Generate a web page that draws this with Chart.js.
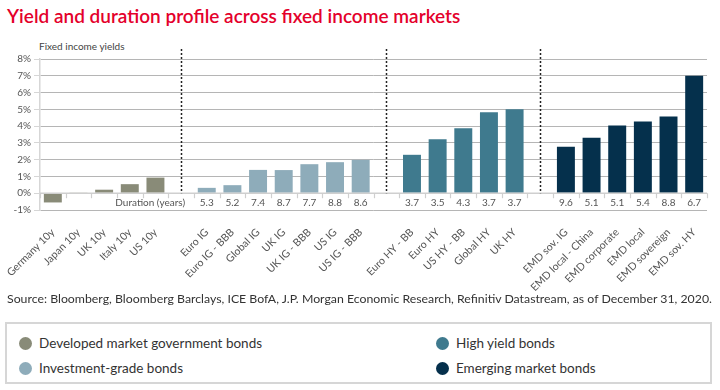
<!DOCTYPE html>
<html><head><meta charset="utf-8">
<script src="https://cdn.jsdelivr.net/npm/chart.js@4"></script>
<style>
html,body{margin:0;padding:0;background:#fff;}
body{width:720px;height:390px;position:relative;overflow:hidden;font-family:Lato,"Open Sans",sans-serif;color:#333;}
#title{position:absolute;left:7px;top:4px;font-size:19px;font-weight:600;color:#e4002b;white-space:nowrap;}
#ycap{position:absolute;left:39px;top:40px;font-size:10px;color:#444;white-space:nowrap;}
#wrap{position:absolute;left:0;top:0;width:720px;height:292px;}
#source{position:absolute;left:7px;top:291px;font-size:12.3px;color:#333;white-space:nowrap;}
#legend{position:absolute;left:5px;top:322px;width:707px;height:62px;border:2px solid #d6d6d6;box-sizing:border-box;}
.li{position:absolute;font-size:13.5px;color:#333;white-space:nowrap;line-height:16px;}
.dot{display:inline-block;width:13px;height:13px;border-radius:50%;vertical-align:-2px;margin-right:7px;}
</style></head>
<body>
<div id="title">Yield and duration profile across fixed income markets</div>
<div id="ycap">Fixed income yields</div>
<div id="wrap"><canvas id="c" width="720" height="292"></canvas></div>
<div id="source">Source: Bloomberg, Bloomberg Barclays, ICE BofA, J.P. Morgan Economic Research, Refinitiv Datastream, as of December 31, 2020.</div>
<div id="legend"></div>
<script>
// ---- data ----
const dmLabels = ['Germany 10y','Japan 10y','UK 10y','Italy 10y','US 10y'];
const dmYields = [-0.55, 0.02, 0.21, 0.54, 0.93];

const igLabels = ['Euro IG','Euro IG - BBB','Global IG','UK IG','UK IG - BBB','US IG','US IG - BBB'];
const igYields = [0.32, 0.48, 1.39, 1.38, 1.73, 1.85, 1.99];
const igDuration = ['5.3','5.2','7.4','8.7','7.7','8.8','8.6'];

const hyLabels = ['Euro HY - BB','Euro HY','US HY - BB','Global HY','UK HY'];
const hyYields = [2.29, 3.22, 3.87, 4.82, 5.0];
const hyDuration = ['3.7','3.5','4.3','3.7','3.7'];

const emLabels = ['EMD sov. IG','EMD local - China','EMD corporate','EMD local','EMD sovereign','EMD sov. HY'];
const emYields = [2.77, 3.30, 4.03, 4.27, 4.57, 7.0];
const emDuration = ['9.6','5.1','5.1','5.4','8.8','6.7'];

const yTicks = [-1,0,1,2,3,4,5,6,7,8];
const groupNames = ['Developed market government bonds','Investment-grade bonds','High yield bonds','Emerging market bonds'];
const groupColors = ['#898b78','#8eacba','#3f7a8e','#05304c'];
const durationCaption = 'Duration (years)';

// ---- build ----
const groups = [
  {labels: dmLabels, values: dmYields, dur: null},
  {labels: igLabels, values: igYields, dur: igDuration},
  {labels: hyLabels, values: hyYields, dur: hyDuration},
  {labels: emLabels, values: emYields, dur: emDuration}
];
const labels = [];
const spacerIdx = [];
const durIdx = [];
const durText = [];
const groupIdx = groups.map(()=>[]);
groups.forEach((g,gi)=>{
  if(gi>0){spacerIdx.push(labels.length); labels.push('');}
  g.labels.forEach((l,i)=>{
    groupIdx[gi].push(labels.length);
    if(g.dur){durIdx.push(labels.length); durText.push(g.dur[i]);}
    labels.push(l);
  });
});
const datasets = groups.map((g,gi)=>{
  const d = labels.map(()=>null);
  groupIdx[gi].forEach((idx,i)=>{ d[idx] = g.values[i]; });
  return {label: groupNames[gi], data: d, backgroundColor: groupColors[gi], grouped:false,
          barPercentage:0.7, categoryPercentage:1.0, borderWidth:0};
});

const overlay = {
  id:'overlay',
  afterDatasetsDraw(chart){
    const ctx = chart.ctx, x = chart.scales.x, y = chart.scales.y;
    const a = chart.chartArea;
    const y0 = y.getPixelForValue(0);
    const step = x.getPixelForValue(1) - x.getPixelForValue(0);
    ctx.save();
    ctx.strokeStyle = '#cfcfcf'; ctx.lineWidth = 1.5; ctx.setLineDash([]);
    ctx.beginPath(); ctx.moveTo(a.left, y0); ctx.lineTo(a.right, y0); ctx.stroke();
    ctx.lineWidth = 1.2;
    for(let i=0;i<=labels.length;i++){
      const px = Math.round(x.getPixelForValue(i) - step/2)+0.5;
      ctx.beginPath(); ctx.moveTo(px, y0); ctx.lineTo(px, y0+5); ctx.stroke();
    }
    ctx.strokeStyle = '#222'; ctx.lineWidth = 1.5; ctx.setLineDash([2,2]);
    spacerIdx.forEach(i=>{
      const px = Math.round(x.getPixelForValue(i))+0.5;
      ctx.beginPath(); ctx.moveTo(px, a.top-10); ctx.lineTo(px, y0); ctx.stroke();
    });
    ctx.setLineDash([]);
    ctx.fillStyle = '#555'; ctx.font = '10px Lato, "Open Sans", sans-serif';
    ctx.textAlign = 'center'; ctx.textBaseline = 'middle';
    durIdx.forEach((i,k)=>{ ctx.fillText(durText[k], x.getPixelForValue(i), y0+10); });
    ctx.textAlign = 'right';
    ctx.fillText(durationCaption, x.getPixelForValue(spacerIdx[0]) + 4, y0+10);
    ctx.restore();
  }
};

new Chart(document.getElementById('c'), {
  type:'bar',
  data:{labels, datasets},
  options:{
    responsive:false, animation:false,
    layout:{padding:{left:0,right:13,top:59,bottom:0}},
    plugins:{legend:{display:false}, tooltip:{enabled:false}},
    scales:{
      x:{
        grid:{display:false}, border:{display:false},
        ticks:{autoSkip:false, minRotation:45, maxRotation:45, padding:8,
               color:'#555', font:{family:'Lato, "Open Sans", sans-serif', size:10.5}},
        afterFit(s){ s.height = 82; s.paddingLeft = 0; s.paddingRight = 0; }
      },
      y:{
        min:-1, max:8,
        afterBuildTicks(s){ s.ticks = yTicks.map(v=>({value:v})); },
        afterFit(s){ s.width = 40; },
        border:{display:true, color:'#d6d6d6', width:1.5},
        grid:{color:'#b5b5b5', lineWidth:1, borderDash:[1.5,2.5], drawTicks:true, tickLength:6,
              tickColor:'#d6d6d6', tickBorderDash:[]},
        ticks:{color:'#555', padding:3, font:{family:'Lato, "Open Sans", sans-serif', size:10},
               callback:v=>v+'%'}
      }
    }
  },
  plugins:[overlay]
});

const lg = document.getElementById('legend');
const pos = [[12,11],[12,36],[429,11],[429,36]];
groupNames.forEach((n,i)=>{
  const d = document.createElement('div'); d.className='li';
  d.style.left = pos[i][0]+'px'; d.style.top = pos[i][1]+'px';
  d.innerHTML = '<span class="dot" style="background:'+groupColors[i]+'"></span>';
  d.appendChild(document.createTextNode(n));
  lg.appendChild(d);
});
</script>
</body></html>
